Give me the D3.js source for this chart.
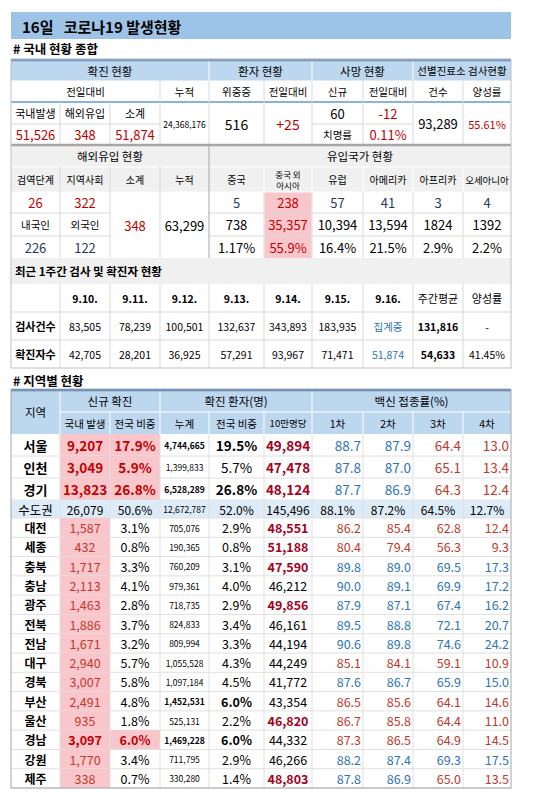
<!DOCTYPE html>
<html><head><meta charset="utf-8">
<script src="https://cdn.jsdelivr.net/npm/d3@7"></script>
<style>body{margin:0;background:#fff}</style></head>
<body><svg id="c" width="550" height="800"></svg>
<script>
const title = "16일   코로나19 발생현황";
// summary
const confirmedDaily = ["51,526","348","51,874"];
const confirmedCum = "24,368,176";
const critical = "516", criticalDiff = "+25";
const deathsNew = "60", deathsDiff = "-12", fatality = "0.11%";
const screenTests = "93,289", screenPos = "55.61%";
// overseas
const quarantine = ["26","322"], nationals = ["226","122"], overseasSub = "348", overseasCum = "63,299";
const originLabels = ["중국","중국 외|아시아","유럽","아메리카","아프리카","오세아니아"];
const originToday = ["5","238","57","41","3","4"];
const originCum = ["738","35,357","10,394","13,594","1824","1392"];
const originShare = ["1.17%","55.9%","16.4%","21.5%","2.9%","2.2%"];
// weekly
const weekDates = ["9.10.","9.11.","9.12.","9.13.","9.14.","9.15.","9.16."];
const weekTests = ["83,505","78,239","100,501","132,637","343,893","183,935","집계중"];
const weekCases = ["42,705","28,201","36,925","57,291","93,967","71,471","51,874"];
const weekAvg = ["131,816","54,633"], weekRate = ["-","41.45%"];
// regions
const regions = ["서울","인천","경기","수도권","대전","세종","충북","충남","광주","전북","전남","대구","경북","부산","울산","경남","강원","제주"];
const newCases = [9207,3049,13823,26079,1587,432,1717,2113,1463,1886,1671,2940,3007,2491,935,3097,1770,338];
const newShare = [17.9,5.9,26.8,50.6,3.1,0.8,3.3,4.1,2.8,3.7,3.2,5.7,5.8,4.8,1.8,6.0,3.4,0.7];
const cumCases = [4744665,1399833,6528289,12672787,705076,190365,760209,979361,718735,824833,809994,1055528,1097184,1452531,525131,1469228,711795,330280];
const cumShare = [19.5,5.7,26.8,52.0,2.9,0.8,3.1,4.0,2.9,3.4,3.3,4.3,4.5,6.0,2.2,6.0,2.9,1.4];
const per100k = [49894,47478,48124,145496,48551,51188,47590,46212,49856,46161,44194,44249,41772,43354,46820,44332,46266,48803];
const vac1 = [88.7,87.8,87.7,88.1,86.2,80.4,89.8,90.0,87.9,89.5,90.6,85.1,87.6,86.5,86.7,87.3,88.2,87.8];
const vac2 = [87.9,87.0,86.9,87.2,85.4,79.4,89.0,89.1,87.1,88.8,89.8,84.1,86.7,85.6,85.8,86.5,87.4,86.9];
const vac3 = [64.4,65.1,64.3,64.5,62.8,56.3,69.5,69.9,67.4,72.1,74.6,59.1,65.9,64.1,64.4,64.9,69.3,65.0];
const vac4 = [13.0,13.4,12.4,12.7,12.4,9.3,17.3,17.2,16.2,20.7,24.2,10.9,15.0,14.6,11.0,14.5,17.5,13.5];
const vacNational = [87.5,86.6,65.5,14.8];
const per100kNational = 46500;

const svg = d3.select("#c");
const F = "'Noto Sans CJK KR','Noto Sans',sans-serif";
const edges = [11,60,110,160,209,264,312,363,413,463,511];
const X = i => edges[i];
const RED="#c00000", NAVY="#1f3864", PINK="#f9c6cb", BLUE="#bdd7ee", GRAY="#f0f0f0", VB="#2e75b6", VR="#c0392b", DR="#a50021";
const fmt = d3.format(",");

function rect(c0,c1,y0,y1,fill){ svg.append("rect").attr("x",X(c0)).attr("y",y0).attr("width",X(c1)-X(c0)).attr("height",y1-y0).attr("fill",fill); }
function txt(c0,c1,y0,y1,t,o={}){
  const lines = String(t).split("|");
  const cx = o.right ? X(c1)-2 : (X(c0)+X(c1))/2, cy=(y0+y1)/2, fs=o.fs||13;
  lines.forEach((l,i)=>{
    svg.append("text").attr("x",cx).attr("y",cy+(i-(lines.length-1)/2)*(fs+2))
      .attr("text-anchor",o.right?"end":"middle").attr("dominant-baseline","central")
      .attr("font-family",F).attr("font-size",fs).attr("font-weight",o.bold?"bold":"normal")
      .attr("fill",o.color||"#000").text(l);
  });
}
function hline(y,c0,c1,col,w){ svg.append("line").attr("x1",X(c0)).attr("x2",X(c1)).attr("y1",y).attr("y2",y).attr("stroke",col||"#d9d9d9").attr("stroke-width",w||1); }
function vline(c,y0,y1,col){ svg.append("line").attr("x1",X(c)).attr("x2",X(c)).attr("y1",y0).attr("y2",y1).attr("stroke",col||"#d9d9d9"); }

// title
svg.append("rect").attr("x",11).attr("y",12).attr("width",500).attr("height",27).attr("fill","#9dc3e6");
svg.append("text").attr("x",22).attr("y",26).attr("dominant-baseline","central").attr("font-family",F).attr("font-size",15).attr("font-weight","bold").attr("xml:space","preserve").text(title);
function sec(y,t){ svg.append("text").attr("x",13).attr("y",y).attr("dominant-baseline","central").attr("font-family",F).attr("font-size",12.5).attr("font-weight","bold").text(t); }
sec(48,"# 국내 현황 종합");

// table 1
rect(0,10,60,81,BLUE);
[[0,4,"확진 현황"],[4,6,"환자 현황"],[6,8,"사망 현황"],[8,10,"선별진료소 검사현황"]].forEach(d=>txt(d[0],d[1],60,81,d[2],{fs:d[2].length>8?10.5:11.5}));
[[0,3,"전일대비"],[3,4,"누적"],[4,5,"위중증"],[5,6,"전일대비"],[6,7,"신규"],[7,8,"전일대비"],[8,9,"건수"],[9,10,"양성률"]].forEach(d=>txt(d[0],d[1],81,102,d[2],{fs:10.5}));
["국내발생","해외유입","소계"].forEach((t,i)=>txt(i,i+1,102,124,t,{fs:11}));
confirmedDaily.forEach((t,i)=>txt(i,i+1,124,145,t,{color:RED,fs:13}));
txt(3,4,102,145,confirmedCum,{fs:8.5});
txt(4,5,102,145,critical,{fs:14});
txt(5,6,102,145,criticalDiff,{fs:14,color:RED});
txt(6,7,102,124,deathsNew,{fs:13}); txt(7,8,102,124,deathsDiff,{fs:13,color:RED});
txt(6,7,124,145,"치명률",{fs:10.5}); txt(7,8,124,145,fatality,{fs:13,color:RED});
txt(8,9,102,145,screenTests,{fs:13}); txt(9,10,102,145,screenPos,{fs:11,color:RED});
hline(81,0,10,"#fff"); hline(102,0,10,"#5b9bd5",1.5); hline(124,0,3); hline(124,6,8);
[1,2].forEach(c=>vline(c,102,145)); [3,4,5,6,8,9].forEach(c=>vline(c,81,145)); vline(7,81,145);
[4,6,8].forEach(c=>vline(c,60,81,"#fff"));
hline(60,0,10,"#4a7ebb",2.5);

// table 2
rect(0,10,145,192,GRAY);
txt(0,4,145,167,"해외유입 현황",{fs:11.5}); txt(4,10,145,167,"유입국가 현황",{fs:11.5});
["검역단계","지역사회","소계","누적"].forEach((t,i)=>txt(i,i+1,167,192,t,{fs:10}));
originLabels.forEach((t,i)=>txt(i+4,i+5,167,192,t,{fs:i==1?8.5:(t.length>4?9.5:10)}));
rect(5,6,192,258,PINK);
quarantine.forEach((t,i)=>txt(i,i+1,192,213,t,{color:RED,fs:13}));
["내국인","외국인"].forEach((t,i)=>txt(i,i+1,213,236,t,{fs:10.5}));
nationals.forEach((t,i)=>txt(i,i+1,236,258,t,{color:NAVY,fs:13}));
txt(2,3,192,258,overseasSub,{color:RED,fs:13});
txt(3,4,192,258,overseasCum,{fs:13});
originToday.forEach((t,i)=>txt(i+4,i+5,192,213,t,{fs:13,color:i==1?RED:NAVY}));
originCum.forEach((t,i)=>txt(i+4,i+5,213,236,t,{fs:13,color:i==1?RED:"#000"}));
originShare.forEach((t,i)=>txt(i+4,i+5,236,258,t,{fs:13,color:i==1?RED:"#000"}));
hline(167,0,10,"#fff"); hline(192,0,10,"#fff"); hline(213,0,2); hline(213,4,10); hline(236,0,2); hline(236,4,10);
[1,2,3,5,6,7,8,9].forEach(c=>vline(c,167,258,c>=5?"#fff":"#d9d9d9"));
[5,6,7,8,9].forEach(c=>vline(c,192,258));
vline(4,145,258,"#a6a6a6");
hline(145,0,10,"#a6a6a6",2.5);

// table 3
rect(0,10,258,284,GRAY);
svg.append("text").attr("x",15).attr("y",271).attr("dominant-baseline","central").attr("font-family",F).attr("font-size",11.5).attr("font-weight","bold").text("최근 1주간 검사 및 확진자 현황");
weekDates.forEach((t,i)=>txt(i+1,i+2,284,312,t,{bold:true,fs:10.5}));
txt(8,9,284,312,"주간평균",{fs:11}); txt(9,10,284,312,"양성률",{fs:11});
txt(0,1,312,340,"검사건수",{bold:true,fs:11}); txt(0,1,340,368,"확진자수",{bold:true,fs:11});
weekTests.forEach((t,i)=>txt(i+1,i+2,312,340,t,{fs:10.5,color:i==6?VB:"#000"}));
weekCases.forEach((t,i)=>txt(i+1,i+2,340,368,t,{fs:10.5,color:i==6?VB:"#000"}));
weekAvg.forEach((t,i)=>txt(8,9,312+28*i,340+28*i,t,{bold:true,fs:10.5}));
weekRate.forEach((t,i)=>txt(9,10,312+28*i,340+28*i,t,{fs:10.5}));
[312,340].forEach(y=>hline(y,0,10));
d3.range(1,10).forEach(c=>vline(c,284,368));
svg.append("rect").attr("x",11).attr("y",60).attr("width",500).attr("height",308).attr("fill","none").attr("stroke","#bfbfbf");

// table 4
sec(380,"# 지역별 현황");
rect(0,10,390,434,BLUE);
txt(0,1,390,434,"지역",{fs:11.5});
txt(1,3,390,412,"신규 확진",{fs:11.5}); txt(3,6,390,412,"확진 환자(명)",{fs:11.5}); txt(6,10,390,412,"백신 접종률(%)",{fs:11.5});
["국내 발생","전국 비중","누계","전국 비중","10만명당","1차","2차","3차","4차"].forEach((t,i)=>txt(i+1,i+2,412,434,t,{fs:i==4?9.5:10.5}));
hline(412,1,10,"#fff"); [1,3,6].forEach(c=>vline(c,390,434,"#fff")); [2,4,5,7,8,9].forEach(c=>vline(c,412,434,"#fff"));
const yEdges=[434,456,478,500,518];
for(let i=4;i<regions.length;i++) yEdges.push(518+(i-3)*(270/14));
const rankNew = regions.map((r,i)=>i).filter(i=>i!=3).sort((a,b)=>newCases[b]-newCases[a]).slice(0,4);
const rankCum = regions.map((r,i)=>i).filter(i=>i!=3).sort((a,b)=>cumCases[b]-cumCases[a]).slice(0,4);
const vacs=[vac1,vac2,vac3,vac4];
regions.forEach((r,i)=>{
  const y0=yEdges[i], y1=yEdges[i+1], big=i<3, fs=big?13.5:12.5;
  if(i==3){
    rect(0,10,y0,y1,"#ddebf7");
    txt(0,1,y0,y1,r,{fs:12.5}); txt(1,2,y0,y1,fmt(newCases[i]),{fs:12}); txt(2,3,y0,y1,newShare[i].toFixed(1)+"%",{fs:12});
    txt(3,4,y0,y1,fmt(cumCases[i]),{fs:8.5}); txt(4,5,y0,y1,cumShare[i].toFixed(1)+"%",{fs:12}); txt(5,6,y0,y1,fmt(per100k[i]),{fs:12});
    vacs.forEach((v,k)=>txt(6+k,7+k,y0,y1,v[i].toFixed(1)+"%",{fs:12}));
  } else {
    const topN=rankNew.includes(i), topC=rankCum.includes(i);
    rect(1,2,y0,y1,PINK); if(topN) rect(2,3,y0,y1,PINK);
    txt(0,1,y0,y1,r,{fs:big?13:12,bold:true});
    txt(1,2,y0,y1,fmt(newCases[i]),{fs:fs,bold:topN,color:topN?RED:VR});
    txt(2,3,y0,y1,newShare[i].toFixed(1)+"%",{fs:fs,bold:topN,color:topN?RED:"#000"});
    txt(3,4,y0,y1,fmt(cumCases[i]),{fs:8.5,bold:topC});
    txt(4,5,y0,y1,cumShare[i].toFixed(1)+"%",{fs:fs,bold:topC});
    const hi=per100k[i]>per100kNational;
    txt(5,6,y0,y1,fmt(per100k[i]),{fs:fs,bold:hi,color:hi?DR:"#000"});
    vacs.forEach((v,k)=>txt(6+k,7+k,y0,y1,v[i].toFixed(1),{fs:fs,right:true,color:v[i]>=vacNational[k]?VB:VR}));
  }
  hline(y1,0,10,"#e0e0e0");
});
d3.range(1,10).forEach(c=>vline(c,434,788,"#e0e0e0"));
hline(390,0,10,"#4a7ebb",2.5);
svg.append("rect").attr("x",11).attr("y",390).attr("width",500).attr("height",398).attr("fill","none").attr("stroke","#a6a6a6");
</script></body></html>
